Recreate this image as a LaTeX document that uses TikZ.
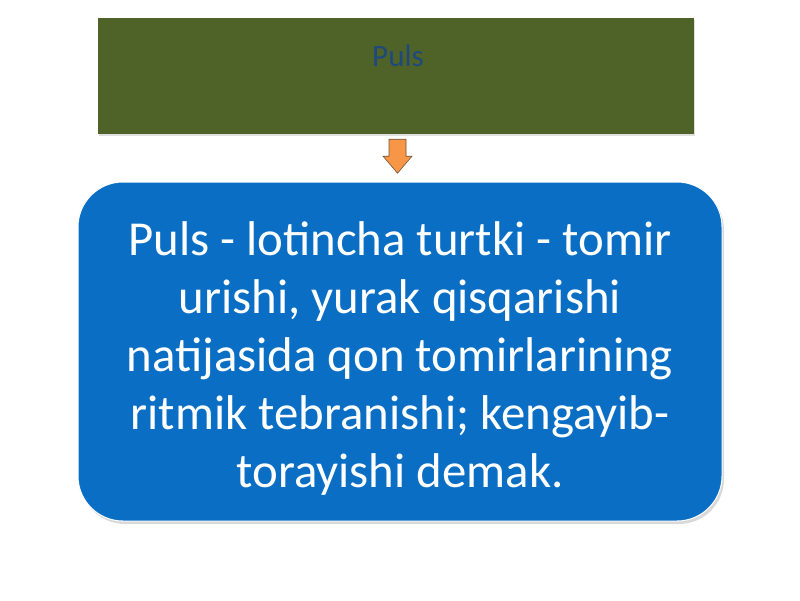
\documentclass[tikz,border=0pt]{standalone}
\usepackage{fontspec}
\setmainfont{Carlito}
\usetikzlibrary{calc}
\usetikzlibrary{shadows}
\definecolor{olivebox}{RGB}{79,98,40}
\definecolor{pulsblue}{RGB}{31,73,125}
\definecolor{defblue}{RGB}{10,111,196}
\definecolor{arrfill}{RGB}{247,150,70}
\definecolor{arrline}{RGB}{110,85,60}

\begin{document}
\begin{tikzpicture}[x = 1pt, y = -1pt,
	headbox/.style = {rectangle, fill=olivebox, minimum width=596pt, minimum height=116pt, drop shadow={opacity=0.25, shadow xshift=1pt, shadow yshift=-2pt}},
	defbox/.style = {rectangle, rounded corners=45pt, fill=defblue, draw=white, line width=1pt, minimum width=644pt, minimum height=339pt, drop shadow={opacity=0.3, shadow xshift=2pt, shadow yshift=-3pt}}]
	\useasboundingbox (0,0) rectangle (800,600);
	\node[headbox] (head) at (396,76) {};
	\node[text=pulsblue, font=\fontsize{31}{36}\selectfont] (puls) at ([xshift=2pt, yshift=20pt]head.center) {Puls};
	\node[defbox] (def) at (400,351.5) {};
	\node[text=white, align=center, font=\fontsize{48.8}{58}\selectfont] (deftext) at ([yshift=-7pt]def.center) {Puls - lotincha turtki - tomir\\urishi, yurak qisqarishi\\natijasida qon tomirlarining\\ritmik tebranishi; kengayib-\\torayishi demak.};
	\coordinate (a) at ($(head.south)+(-7,5)$);
	\draw[fill=arrfill, draw=arrline, semithick] (a) -- ++(17,0) -- ++(0,17) -- ++(6,0) -- ++(-14.5,17) -- ++(-14.5,-17) -- ++(6,0) -- cycle;
\end{tikzpicture}
\end{document}
